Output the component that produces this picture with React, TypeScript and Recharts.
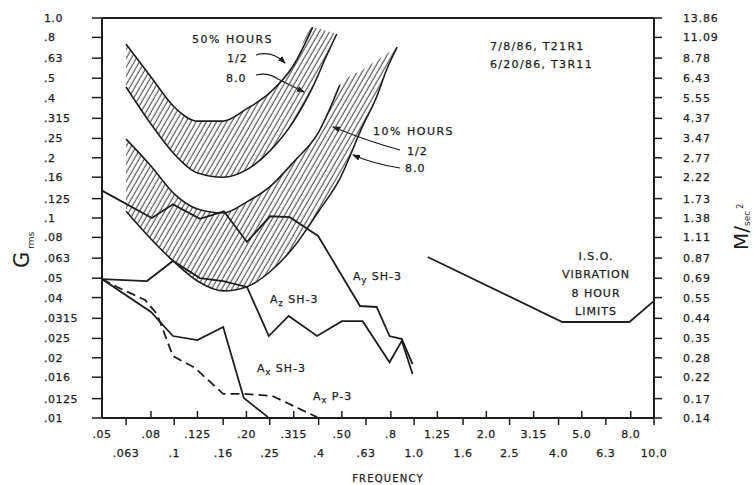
import React from 'react';
import { ComposedChart, Line, Area, XAxis, YAxis, ReferenceLine } from 'recharts';

// 1/3 octave frequency axis (Hz)
const freqTicks = [0.05, 0.063, 0.08, 0.1, 0.125, 0.16, 0.2, 0.25, 0.315, 0.4, 0.5, 0.63, 0.8, 1.0, 1.25, 1.6, 2.0, 2.5, 3.15, 4.0, 5.0, 6.3, 8.0, 10.0];
const freqLabels = ['.05', '.063', '.08', '.1', '.125', '.16', '.20', '.25', '.315', '.4', '.50', '.63', '.8', '1.0', '1.25', '1.6', '2.0', '2.5', '3.15', '4.0', '5.0', '6.3', '8.0', '10.0'];

// acceleration axis (g rms) and the M/sec^2 labels on the right
const gTicks = [1.0, 0.8, 0.63, 0.5, 0.4, 0.315, 0.25, 0.2, 0.16, 0.125, 0.1, 0.08, 0.063, 0.05, 0.04, 0.0315, 0.025, 0.02, 0.016, 0.0125, 0.01];
const gLabels = ['1.0', '.8', '.63', '.5', '.4', '.315', '.25', '.2', '.16', '.125', '.1', '.08', '.063', '.05', '.04', '.0315', '.025', '.02', '.016', '.0125', '.01'];
const msLabels = ['13.86', '11.09', '8.78', '6.43', '5.55', '4.37', '3.47', '2.77', '2.22', '1.73', '1.38', '1.11', '0.87', '0.69', '0.55', '0.44', '0.35', '0.28', '0.22', '0.17', '0.14'];

// 50% hours band (1/2 hr upper edge, 8.0 hr lower edge)
const band50F = [0.063, 0.08, 0.1, 0.125, 0.16, 0.2, 0.25, 0.315, 0.378, 0.433, 0.476];
const band50Half = [0.741, 0.507, 0.359, 0.305, 0.305, 0.351, 0.422, 0.582, 0.9, 0.86, 0.832];
const band50Eight = [0.452, 0.295, 0.209, 0.168, 0.16, 0.174, 0.216, 0.305, 0.452, 0.653, 0.832];

// 10% hours band
const band10F = [0.063, 0.08, 0.1, 0.125, 0.16, 0.2, 0.25, 0.315, 0.4, 0.49, 0.61, 0.7, 0.77, 0.85];
const band10Half = [0.248, 0.182, 0.132, 0.111, 0.106, 0.12, 0.143, 0.191, 0.269, 0.462, 0.551, 0.614, 0.663, 0.716];
const band10Eight = [0.108, 0.0785, 0.0603, 0.0484, 0.0432, 0.0452, 0.0537, 0.0716, 0.108, 0.157, 0.288, 0.407, 0.556, 0.716];

// measured spectra
const ayF = [0.05, 0.0807, 0.0988, 0.128, 0.161, 0.201, 0.251, 0.303, 0.398, 0.595, 0.698, 0.79, 0.889, 0.985];
const ayG = [0.137, 0.1, 0.117, 0.099, 0.108, 0.0759, 0.102, 0.101, 0.0813, 0.0363, 0.0359, 0.0257, 0.0248, 0.0186];

const azF = [0.05, 0.077, 0.0988, 0.128, 0.16, 0.201, 0.248, 0.3, 0.394, 0.5, 0.61, 0.79, 0.889, 0.985];
const azG = [0.0495, 0.0484, 0.061, 0.0501, 0.0484, 0.0452, 0.0257, 0.0324, 0.0257, 0.0305, 0.0305, 0.019, 0.0243, 0.0166];

const axShF = [0.05, 0.08, 0.0988, 0.125, 0.16, 0.195, 0.246];
const axShG = [0.0495, 0.0339, 0.0257, 0.0245, 0.0285, 0.0126, 0.0101];

const axPF = [0.05, 0.0578, 0.0756, 0.0848, 0.0988, 0.122, 0.16, 0.195, 0.256, 0.394];
const axPG = [0.0495, 0.0452, 0.0389, 0.0331, 0.0204, 0.0178, 0.0132, 0.0132, 0.0129, 0.0101];

// ISO 8 hour limit
const isoF = [1.14, 4.15, 7.9, 10.0];
const isoG = [0.0638, 0.0302, 0.0302, 0.0385];

const ink = '#1e1e1e';
const font = '"DejaVu Sans", sans-serif';

const pts = (f: number[], v: number[]) => f.map((x, i) => ({ f: x, v: v[i] }));
const band = (f: number[], lo: number[], hi: number[]) => f.map((x, i) => ({ f: x, range: [lo[i], hi[i]] }));

// slight stroke to mimic the heavier typed lettering of the scan
const txt = { fontFamily: font, fontSize: 11, fill: ink, stroke: ink, strokeWidth: 0.25, letterSpacing: 1 } as const;

const XTick = (props: any) => {
  const { x, y, payload } = props;
  const i = freqTicks.indexOf(payload.value);
  const up = i % 2 === 0;
  return (
    <g>
      <line x1={x} x2={x} y1={y} y2={up ? y - 7 : y + 7} stroke={ink} strokeWidth={1.5} />
      <text x={x} y={up ? y + 20 : y + 39} textAnchor="middle" {...txt} letterSpacing={0.5}>
        {freqLabels[i]}
      </text>
    </g>
  );
};

const YTickL = (props: any) => {
  const { x, y, payload } = props;
  const i = gTicks.indexOf(payload.value);
  return (
    <text x={x - 48} y={y + 4} {...txt} letterSpacing={0.5}>
      {gLabels[i]}
    </text>
  );
};

const YTickR = (props: any) => {
  const { x, y, payload } = props;
  const i = gTicks.indexOf(payload.value);
  return (
    <text x={x + 21} y={y + 4} {...txt} letterSpacing={0.8}>
      {msLabels[i]}
    </text>
  );
};

const ALabel = ({ x, y, sub, rest }: { x: number; y: number; sub: string; rest: string }) => (
  <text x={x} y={y} {...txt}>
    A<tspan fontSize={8} dy={3}>{sub}</tspan>
    <tspan dy={-3}> {rest}</tspan>
  </text>
);

export default function App() {
  return (
    <div style={{ position: 'absolute', left: 0, top: 0, width: 754, height: 485, background: '#fff' }}>
      <ComposedChart width={754} height={485} margin={{ top: 18, right: 0, bottom: 0, left: 0 }}>
        <defs>
          <pattern id="hatch" patternUnits="userSpaceOnUse" width="4.4" height="4.4" patternTransform="rotate(30)">
            <line x1="2" y1="0" x2="2" y2="4.4" stroke="#3a3a3a" strokeWidth="1" />
          </pattern>
          <marker id="arr" markerWidth="8" markerHeight="6" refX="7" refY="3" orient="auto" markerUnits="userSpaceOnUse">
            <path d="M0,0 L8,3 L0,6 z" fill={ink} />
          </marker>
        </defs>
        <XAxis
          dataKey="f"
          type="number"
          scale="log"
          domain={[0.05, 10]}
          allowDataOverflow
          ticks={freqTicks}
          interval={0}
          tick={<XTick />}
          tickSize={0}
          tickMargin={0}
          tickLine={false}
          height={67}
          axisLine={{ stroke: ink, strokeWidth: 2 }}
        />
        <YAxis
          type="number"
          scale="log"
          domain={[0.01, 1]}
          allowDataOverflow
          ticks={gTicks}
          interval={0}
          tick={<YTickL />}
          tickSize={10}
          tickMargin={0}
          tickLine={{ stroke: ink, strokeWidth: 1.5 }}
          width={102}
          axisLine={{ stroke: ink, strokeWidth: 2 }}
        />
        <YAxis
          yAxisId="r"
          orientation="right"
          type="number"
          scale="log"
          domain={[0.01, 1]}
          allowDataOverflow
          ticks={gTicks}
          interval={0}
          tick={<YTickR />}
          tickSize={8}
          tickMargin={0}
          tickLine={{ stroke: ink, strokeWidth: 1.5 }}
          width={100}
          axisLine={{ stroke: ink, strokeWidth: 2 }}
        />
        <ReferenceLine y={1} stroke={ink} strokeWidth={2} ifOverflow="visible" />

        <Area data={band(band50F, band50Eight, band50Half)} dataKey="range" type="monotone" stroke="none" fill="url(#hatch)" fillOpacity={1} isAnimationActive={false} />
        <Area data={band(band10F, band10Eight, band10Half)} dataKey="range" type="monotone" stroke="none" fill="url(#hatch)" fillOpacity={1} isAnimationActive={false} />

        <Line data={pts(band50F.slice(0, 9), band50Half.slice(0, 9))} dataKey="v" type="monotone" stroke={ink} strokeWidth={1.6} dot={false} isAnimationActive={false} />
        <Line data={pts(band50F, band50Eight)} dataKey="v" type="monotone" stroke={ink} strokeWidth={1.6} dot={false} isAnimationActive={false} />
        <Line data={pts(band10F.slice(0, 10), band10Half.slice(0, 10))} dataKey="v" type="monotone" stroke={ink} strokeWidth={1.6} dot={false} isAnimationActive={false} />
        <Line data={pts(band10F, band10Eight)} dataKey="v" type="monotone" stroke={ink} strokeWidth={1.6} dot={false} isAnimationActive={false} />

        <Line data={pts(ayF, ayG)} dataKey="v" type="linear" stroke={ink} strokeWidth={1.8} dot={false} isAnimationActive={false} />
        <Line data={pts(azF, azG)} dataKey="v" type="linear" stroke={ink} strokeWidth={1.8} dot={false} isAnimationActive={false} />
        <Line data={pts(axShF, axShG)} dataKey="v" type="linear" stroke={ink} strokeWidth={1.8} dot={false} isAnimationActive={false} />
        <Line data={pts(axPF, axPG)} dataKey="v" type="linear" stroke={ink} strokeWidth={1.8} strokeDasharray="9 5" dot={false} isAnimationActive={false} />
        <Line data={pts(isoF, isoG)} dataKey="v" type="linear" stroke={ink} strokeWidth={1.8} dot={false} isAnimationActive={false} />

        {/* annotations */}
        <text x={192} y={43} {...txt} letterSpacing={1.5}>50% HOURS</text>
        <text x={227} y={62} {...txt}>1/2</text>
        <text x={226} y={82} {...txt}>8.0</text>
        <path d="M 256 55 Q 272 50 285 63" fill="none" stroke={ink} strokeWidth={1.2} markerEnd="url(#arr)" />
        <path d="M 256 75 Q 268 72 278 79 L 304 92" fill="none" stroke={ink} strokeWidth={1.2} markerEnd="url(#arr)" />

        <text x={373} y={135} {...txt} letterSpacing={1.5}>10% HOURS</text>
        <text x={407} y={155} {...txt}>1/2</text>
        <text x={405} y={172} {...txt}>8.0</text>
        <path d="M 400 150 Q 370 142 333 127" fill="none" stroke={ink} strokeWidth={1.2} markerEnd="url(#arr)" />
        <path d="M 400 168 Q 374 164 353 155" fill="none" stroke={ink} strokeWidth={1.2} markerEnd="url(#arr)" />

        <text x={490} y={50} {...txt} letterSpacing={1.3}>7/8/86,  T21R1</text>
        <text x={490} y={68} {...txt} letterSpacing={1.3}>6/20/86,  T3R11</text>

        <text x={596} y={260} textAnchor="middle" {...txt}>I.S.O.</text>
        <text x={596} y={278} textAnchor="middle" {...txt}>VIBRATION</text>
        <text x={596} y={297} textAnchor="middle" {...txt}>8 HOUR</text>
        <text x={596} y={315} textAnchor="middle" {...txt}>LIMITS</text>

        <ALabel x={353} y={280} sub="y" rest="SH-3" />
        <ALabel x={270} y={303} sub="z" rest="SH-3" />
        <ALabel x={257} y={372} sub="x" rest="SH-3" />
        <ALabel x={313} y={400} sub="x" rest="P-3" />

        <text x={388} y={482} textAnchor="middle" {...txt} fontSize={10} letterSpacing={1.2}>FREQUENCY</text>

        <text transform="rotate(-90 29 268)" x={29} y={268} fontFamily={font} fill={ink}>
          <tspan fontSize={21}>G</tspan>
          <tspan fontSize={9} dy={5} dx={3}>rms</tspan>
        </text>
        <text transform="rotate(-90 748 250)" x={748} y={250} fontFamily={font} fill={ink}>
          <tspan fontSize={20}>M/</tspan>
          <tspan fontSize={9} dy={2}>sec</tspan>
          <tspan fontSize={8} dy={-7} dx={2}>2</tspan>
        </text>
      </ComposedChart>
    </div>
  );
}
